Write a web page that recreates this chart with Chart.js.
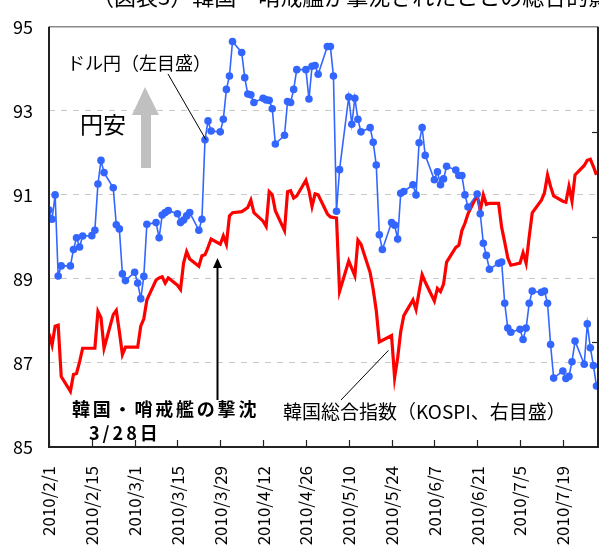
<!DOCTYPE html>
<html>
	<head>
		<meta charset="UTF-8">
		<style>
			html, body { margin: 0; padding: 0; overflow: hidden; background: #fff; }
		</style>
	</head>
	<script src="https://cdn.jsdelivr.net/npm/chart.js@4/dist/chart.umd.min.js"></script>
	<body>
		<canvas id="myChart" width="640" height="600"></canvas>
		<script>
			// business days, 2010
			var dates = [
				'2/1','2/2','2/3','2/4','2/5','2/8','2/9','2/10','2/11','2/12','2/15','2/16','2/17','2/18','2/19','2/22','2/23','2/24','2/25','2/26',
				'3/1','3/2','3/3','3/4','3/5','3/8','3/9','3/10','3/11','3/12','3/15','3/16','3/17','3/18','3/19','3/22','3/23','3/24','3/25','3/26','3/29','3/30','3/31',
				'4/1','4/2','4/5','4/6','4/7','4/8','4/9','4/12','4/13','4/14','4/15','4/16','4/19','4/20','4/21','4/22','4/23','4/26','4/27','4/28','4/29','4/30',
				'5/3','5/4','5/5','5/6','5/7','5/10','5/11','5/12','5/13','5/14','5/17','5/18','5/19','5/20','5/21','5/24','5/25','5/26','5/27','5/28','5/31',
				'6/1','6/2','6/3','6/4','6/7','6/8','6/9','6/10','6/11','6/14','6/15','6/16','6/17','6/18','6/21','6/22','6/23','6/24','6/25','6/28','6/29','6/30',
				'7/1','7/2','7/5','7/6','7/7','7/8','7/9','7/12','7/13','7/14','7/15','7/16','7/19','7/20','7/21','7/22','7/23','7/26','7/27','7/28','7/29','7/30'
			];
			// ドル円 (left axis)
			var usdJpy = [
				90.64,90.42,91.00,89.07,89.31,89.31,89.70,89.98,89.76,90.02,90.03,90.16,91.26,91.82,91.53,91.17,90.29,90.19,89.12,88.96,
				89.16,88.90,88.53,89.06,90.30,90.34,89.98,90.52,90.58,90.63,90.55,90.34,90.40,90.50,90.58,90.16,90.42,92.31,92.76,92.52,92.50,92.80,93.51,
				93.83,94.65,94.39,93.79,93.40,93.38,93.20,93.30,93.26,93.25,93.05,92.21,92.42,93.22,93.20,93.51,93.98,93.98,93.28,94.06,94.08,93.87,
				94.53,94.53,93.83,90.61,91.60,93.33,92.68,93.30,92.80,92.50,92.60,92.25,91.71,90.05,89.70,90.34,90.28,89.95,91.04,91.08,91.24,
				91.00,92.24,92.60,91.94,91.36,91.55,91.24,91.38,91.68,91.59,91.46,91.46,91.00,90.71,91.02,90.55,89.85,89.56,89.23,89.37,89.40,88.42,
				87.83,87.73,87.80,87.56,87.83,88.42,88.71,88.68,88.71,88.42,87.44,86.64,86.81,86.63,86.68,87.03,87.52,86.97,87.93,87.36,86.94,86.45
			];
			// KOSPI (right axis), null = Korean holiday
			var kospi = [
				1608,1597,1615,1616,1567,1553,1569,1570,1581,1594,null,1594,1629,1623,1594,1626,1630,1610,1588,1595,
				null,1595,1615,1622,1640,1659,1661,1662,1656,1661,1654,1650,1675,1686,1679,1672,1682,1683,1690,1698,1693,1701,1693,
				1720,1723,1724,1726,1728,1735,1723,1715,1710,1743,1740,1725,1706,1743,1744,1737,1739,1754,1744,1729,1741,1740,
				1722,1719,null,1718,1648,1677,1670,1663,1697,1693,1666,1650,1630,1600,null,1606,1566,1585,1610,1625,1640,
				1631,null,1664,1657,1639,1651,1648,1655,1676,1690,1692,1706,1713,1722,1740,1725,1740,1731,1732,1732,1709,1695,
				1680,1673,1675,1685,1675,1700,1723,1735,1742,1759,1748,1739,1734,1733,1748,1734,1759,1768,1773,1774,1767,1759
			];
			var tickLabels = ['2010/2/1','2010/2/15','2010/3/1','2010/3/15','2010/3/29','2010/4/12','2010/4/26','2010/5/10','2010/5/24','2010/6/7','2010/6/21','2010/7/5','2010/7/19'];

			var JP = '"Noto Sans CJK JP", sans-serif';

			function dayOf(s){
				var p = s.split('/');
				var m = +p[p.length-2], d = +p[p.length-1];
				return Math.round((Date.UTC(2010, m-1, d) - Date.UTC(2010, 1, 1)) / 86400000);
			}
			var tickDays = tickLabels.map(dayOf);

			var yenData = dates.map(function(d, i){ return {x: dayOf(d), y: usdJpy[i]}; });
			var kospiData = dates.map(function(d, i){ return {x: dayOf(d), y: kospi[i]}; });

			var overlay = {
				id: 'overlay',
				afterDraw: function(chart){
					var ctx = chart.ctx, a = chart.chartArea;
					var xs = chart.scales.x, ys = chart.scales.y, y2 = chart.scales.y2;
					ctx.save();
					// frame
					ctx.strokeStyle = '#888'; ctx.lineWidth = 1.5;
					ctx.beginPath(); ctx.moveTo(a.left, a.top); ctx.lineTo(a.right, a.top); ctx.stroke();
					ctx.strokeStyle = '#222'; ctx.lineWidth = 2;
					ctx.beginPath(); ctx.moveTo(a.left, a.top); ctx.lineTo(a.left, a.bottom); ctx.lineTo(a.right, a.bottom); ctx.lineTo(a.right, a.top); ctx.stroke();
					// inward ticks
					ctx.lineWidth = 1.2;
					tickDays.forEach(function(d){
						var px = Math.round(xs.getPixelForValue(d)) + 0.5;
						ctx.beginPath(); ctx.moveTo(px, a.bottom); ctx.lineTo(px, a.bottom - 7); ctx.stroke();
					});
					[1600, 1700, 1800].forEach(function(v){
						var py = Math.round(y2.getPixelForValue(v)) + 0.5;
						ctx.beginPath(); ctx.moveTo(a.right - 6, py); ctx.lineTo(a.right, py); ctx.stroke();
					});

					// title (cut at top)
					ctx.fillStyle = '#000';
					ctx.font = '22px ' + JP;
					ctx.textBaseline = 'alphabetic';
					ctx.fillText('（図表3）韓国・哨戒艦が撃沈されたことの総合的影響', 92, 5);

					// ドル円 label + leader
					ctx.font = '18px ' + JP;
					ctx.textBaseline = 'middle';
					ctx.fillText('ドル円（左目盛）', 67, 63);
					ctx.strokeStyle = '#000'; ctx.lineWidth = 1;
					ctx.beginPath(); ctx.moveTo(168, 74);
					ctx.lineTo(xs.getPixelForValue(dayOf('3/24')) + 1, ys.getPixelForValue(92.31));
					ctx.stroke();

					// 円安 + gray arrow
					ctx.font = '23px ' + JP;
					ctx.fillText('円安', 80, 124);
					ctx.fillStyle = '#c0c0c0';
					ctx.beginPath();
					ctx.moveTo(145, 87); ctx.lineTo(159, 115); ctx.lineTo(151, 115); ctx.lineTo(151, 168);
					ctx.lineTo(141, 168); ctx.lineTo(141, 115); ctx.lineTo(132, 115); ctx.closePath();
					ctx.fill();

					// 3/28 arrow
					var ax = Math.round(xs.getPixelForValue(dayOf('3/28'))) + 0.5;
					var tip = y2.getPixelForValue(1680);
					ctx.strokeStyle = '#000'; ctx.lineWidth = 2;
					ctx.beginPath(); ctx.moveTo(ax, 400); ctx.lineTo(ax, tip + 8); ctx.stroke();
					ctx.fillStyle = '#000';
					ctx.beginPath(); ctx.moveTo(ax, tip); ctx.lineTo(ax + 4.5, tip + 10); ctx.lineTo(ax - 4.5, tip + 10); ctx.closePath(); ctx.fill();

					ctx.font = 'bold 18px ' + JP;
					ctx.letterSpacing = '2.8px';
					ctx.fillText('韓国・哨戒艦の撃沈', 72, 409);
					ctx.letterSpacing = '3px';
					ctx.fillText('3/28日', 89, 433);
					ctx.letterSpacing = '0px';

					// KOSPI label + leader
					ctx.font = '19px ' + JP;
					ctx.fillText('韓国総合指数（KOSPI、右目盛）', 283, 412);
					ctx.lineWidth = 1;
					ctx.beginPath(); ctx.moveTo(341, 400);
					ctx.lineTo(xs.getPixelForValue(dayOf('5/23')), y2.getPixelForValue(1592));
					ctx.stroke();
					ctx.restore();
				}
			};

			new Chart('myChart', {
				type: 'line',
				data: {
					datasets: [
						{
							label: 'ドル円（左目盛）',
							data: yenData,
							yAxisID: 'y',
							borderColor: '#3366ff',
							backgroundColor: '#3366ff',
							borderWidth: 1.6,
							pointRadius: 3.8,
							pointBorderWidth: 0,
							fill: false,
							order: 0
						},
						{
							label: '韓国総合指数（KOSPI、右目盛）',
							data: kospiData,
							yAxisID: 'y2',
							borderColor: '#ff0000',
							borderWidth: 3.2,
							pointRadius: 0,
							spanGaps: true,
							fill: false,
							order: 1
						}
					]
				},
				options: {
					responsive: false,
					animation: false,
					layout: { padding: { top: 19, left: 0, right: 0, bottom: 0 } },
					plugins: { legend: { display: false }, tooltip: { enabled: false } },
					scales: {
						x: {
							type: 'linear',
							min: 0,
							max: 179.5,
							afterBuildTicks: function(s){ s.ticks = tickDays.map(function(v){ return {value: v}; }); },
							afterFit: function(s){ s.height = 153; },
							grid: { display: false, drawTicks: false },
							border: { display: false },
							ticks: {
								autoSkip: false,
								maxRotation: 90,
								minRotation: 90,
								padding: 19,
								color: '#000',
								font: { family: JP, size: 17 },
								callback: function(v){ var i = tickDays.indexOf(v); return i >= 0 ? tickLabels[i] : ''; }
							}
						},
						y: {
							position: 'left',
							min: 85,
							max: 95,
							afterFit: function(s){ s.width = 49; },
							grid: {
								drawTicks: false,
								color: function(c){ return (c.tick.value === 85 || c.tick.value === 95) ? 'rgba(0,0,0,0)' : '#c8c8c8'; },
								lineWidth: 1
							},
							border: { display: false, dash: [6, 6] },
							ticks: { stepSize: 2, padding: 16, color: '#000', font: { family: JP, size: 18 } }
						},
						y2: {
							position: 'right',
							min: 1500,
							max: 1900,
							afterFit: function(s){ s.width = 42; },
							grid: { display: false, drawTicks: false },
							border: { display: false },
							ticks: { stepSize: 100, padding: 8, color: '#000', font: { family: JP, size: 18 } }
						}
					}
				},
				plugins: [overlay]
			});
		</script>
	</body>
</html>
